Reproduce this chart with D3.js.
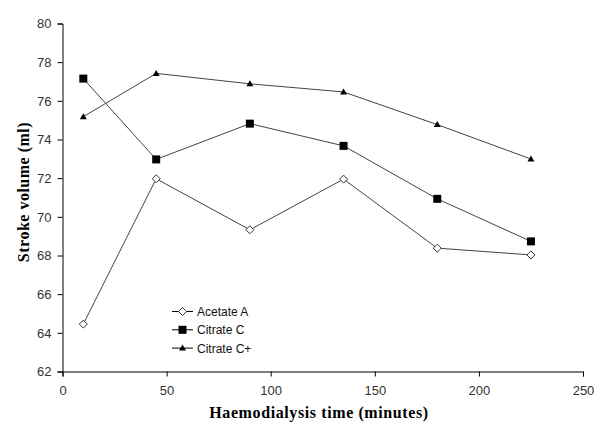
<!DOCTYPE html>
<html>
<head>
<meta charset="utf-8">
<script src="https://cdn.jsdelivr.net/npm/d3@7"></script>
<style>
  body { margin: 0; background: #fff; }
  svg { display: block; }
</style>
</head>
<body>
<svg id="chart" width="600" height="439"></svg>
<script>
// tempi di misura (minuti)
const times = [10, 45, 90, 135, 180, 225];
// volume sistolico per ciascuna serie
const acetateA = [64.45, 71.97, 69.33, 71.95, 68.38, 68.03];
const citrateC = [77.15, 72.97, 74.82, 73.67, 70.93, 68.73];
const citrateCPlus = [75.18, 77.42, 76.88, 76.46, 74.77, 72.99];
const seriesNames = ["Acetate A", "Citrate C", "Citrate C+"];
const xTicks = [0, 50, 100, 150, 200, 250];
const yTicks = [62, 64, 66, 68, 70, 72, 74, 76, 78, 80];

const svg = d3.select("#chart");
const plotLeft = 62.5, plotRight = 583, plotTop = 23.5, plotBottom = 371.5;

const x = d3.scaleLinear().domain([0, 250]).range([plotLeft, plotRight]);
const y = d3.scaleLinear().domain([62, 80]).range([plotBottom, plotTop]);

/* assi */
const xAxis = svg.append("g")
    .attr("transform", `translate(0,${plotBottom})`)
    .call(d3.axisBottom(x).tickValues(xTicks).tickSize(5).tickPadding(9));
const yAxis = svg.append("g")
    .attr("transform", `translate(${plotLeft},0)`)
    .call(d3.axisLeft(y).tickValues(yTicks).tickSize(5).tickPadding(6));

[xAxis, yAxis].forEach(a => {
    a.select(".domain").attr("stroke", "#000");
    a.selectAll(".tick line").attr("stroke", "#000");
    a.selectAll(".tick text")
        .attr("fill", "#333")
        .style("font-family", "'Liberation Sans', Arial, sans-serif")
        .style("font-size", "13px");
});

/* titoli degli assi */
svg.append("text")
    .attr("x", 319)
    .attr("y", 418)
    .attr("text-anchor", "middle")
    .style("font-family", "'Liberation Serif', 'Times New Roman', serif")
    .style("font-weight", "bold")
    .style("font-size", "16px")
    .style("letter-spacing", "0.6px")
    .text("Haemodialysis time (minutes)");

svg.append("text")
    .attr("transform", `translate(28.5,192) rotate(-90)`)
    .attr("text-anchor", "middle")
    .style("font-family", "'Liberation Serif', 'Times New Roman', serif")
    .style("font-weight", "bold")
    .style("font-size", "16px")
    .style("letter-spacing", "0.5px")
    .text("Stroke volume (ml)");

/* serie */
const series = [acetateA, citrateC, citrateCPlus];
const markers = ["diamond", "square", "triangle"];

const line = d3.line()
    .x((d, i) => x(times[i]))
    .y(d => y(d));

function drawMarker(g, type, cx, cy) {
    if (type === "diamond") {
        g.append("path")
            .attr("d", `M${cx},${cy - 4}L${cx + 4},${cy}L${cx},${cy + 4}L${cx - 4},${cy}Z`)
            .attr("fill", "#fff")
            .attr("stroke", "#333")
            .attr("stroke-width", 1);
    } else if (type === "square") {
        g.append("rect")
            .attr("x", cx - 4).attr("y", cy - 4)
            .attr("width", 8).attr("height", 8)
            .attr("fill", "#000");
    } else {
        g.append("path")
            .attr("d", `M${cx},${cy - 3.5}L${cx + 3.5},${cy + 2.5}L${cx - 3.5},${cy + 2.5}Z`)
            .attr("fill", "#000");
    }
}

series.forEach((s, k) => {
    const g = svg.append("g");
    g.append("path")
        .datum(s)
        .attr("d", line)
        .attr("fill", "none")
        .attr("stroke", "#444")
        .attr("stroke-width", 1);
    s.forEach((v, i) => drawMarker(g, markers[k], x(times[i]), y(v)));
});

/* legenda */
const legend = svg.append("g");
seriesNames.forEach((name, k) => {
    const ly = 311.5 + k * 18.3;
    legend.append("line")
        .attr("x1", 172).attr("x2", 193)
        .attr("y1", ly).attr("y2", ly)
        .attr("stroke", "#000");
    drawMarker(legend, markers[k], 182.5, ly);
    legend.append("text")
        .attr("x", 197)
        .attr("y", ly + 4.5)
        .style("font-family", "'Liberation Sans', Arial, sans-serif")
        .style("font-size", "12px")
        .attr("fill", "#111")
        .text(name);
});
</script>
</body>
</html>
